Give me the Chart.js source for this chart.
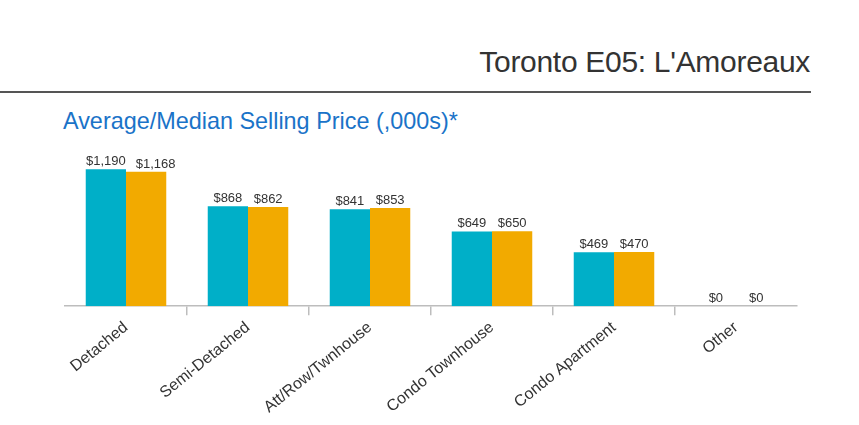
<!DOCTYPE html>
<html>
<head>
<meta charset="utf-8">
<script src="https://cdn.jsdelivr.net/npm/chart.js@4/dist/chart.umd.min.js"></script>
<style>
  body { margin: 0; background: #fff; width: 859px; height: 425px; overflow: hidden; position: relative; font-family: "Liberation Sans", Arial, sans-serif; }
  .titulo { position: absolute; right: 49px; top: 45px; font-size: 30px; letter-spacing: -0.3px; color: #333; white-space: nowrap; }
  .linha { position: absolute; left: 0; top: 91px; width: 811px; height: 2px; background: #555; }
  .subtitulo { position: absolute; left: 63px; top: 108px; font-size: 23.4px; color: #1a73c8; white-space: nowrap; }
  .grafico { position: absolute; left: 0; top: 135px; width: 859px; height: 290px; }
</style>
</head>
<body>
<div class="titulo">Toronto E05: L'Amoreaux</div>
<div class="linha"></div>
<div class="subtitulo">Average/Median Selling Price (,000s)*</div>
<div class="grafico"><canvas id="precos"></canvas></div>
<script>
const categorias = ['Detached', 'Semi-Detached', 'Att/Row/Twnhouse', 'Condo Townhouse', 'Condo Apartment', 'Other'];
const precoMedio = [1190, 868, 841, 649, 469, 0];
const precoMediano = [1168, 862, 853, 650, 470, 0];

// desenha os valores em cima das barras, empurrando o segundo se encostar no primeiro
const rotulosBarras = {
    id: 'rotulosBarras',
    afterDatasetsDraw(chart) {
        const ctx = chart.ctx;
        ctx.save();
        ctx.font = '13px "Liberation Sans", Arial, sans-serif';
        ctx.fillStyle = '#333';
        ctx.textAlign = 'left';
        ctx.textBaseline = 'alphabetic';
        const metaA = chart.getDatasetMeta(0);
        const metaB = chart.getDatasetMeta(1);
        categorias.forEach((cat, j) => {
            const txtA = '$' + precoMedio[j].toLocaleString('en-US');
            const txtB = '$' + precoMediano[j].toLocaleString('en-US');
            const wA = ctx.measureText(txtA).width;
            const wB = ctx.measureText(txtB).width;
            const xA = metaA.data[j].x - wA / 2;
            let xB = metaB.data[j].x - wB / 2;
            if (xB < xA + wA + 10) {
                xB = xA + wA + 10;
            }
            ctx.fillText(txtA, xA, metaA.data[j].y - 4);
            ctx.fillText(txtB, xB, metaB.data[j].y - 4);
        });
        ctx.restore();
    }
};

document.addEventListener("DOMContentLoaded", function () {
    const ctx = document.getElementById('precos');
    new Chart(ctx, {
        type: 'bar',
        data: {
            labels: categorias,
            datasets: [
                { label: 'Average', data: precoMedio, backgroundColor: '#00afc8' },
                { label: 'Median', data: precoMediano, backgroundColor: '#f2aa00' }
            ]
        },
        options: {
            responsive: true,
            maintainAspectRatio: false,
            animation: false,
            layout: { padding: { left: 65, right: 62, top: 10, bottom: 5 } },
            datasets: { bar: { categoryPercentage: 0.66, barPercentage: 1 } },
            plugins: {
                legend: { display: false },
                tooltip: { enabled: false }
            },
            scales: {
                x: {
                    grid: {
                        drawOnChartArea: false,
                        tickLength: 9,
                        lineWidth: 1.5,
                        color: c => (c.type === 'tick' && c.index > 0) ? '#bdbdbd' : 'rgba(0,0,0,0)'
                    },
                    border: { color: '#bdbdbd', width: 1.5 },
                    ticks: {
                        minRotation: 39,
                        maxRotation: 39,
                        color: '#333',
                        font: { family: '"Liberation Sans", Arial, sans-serif', size: 16 }
                    }
                },
                y: {
                    display: false,
                    min: 0,
                    max: 1400
                }
            }
        },
        plugins: [rotulosBarras]
    });
});
</script>
</body>
</html>
